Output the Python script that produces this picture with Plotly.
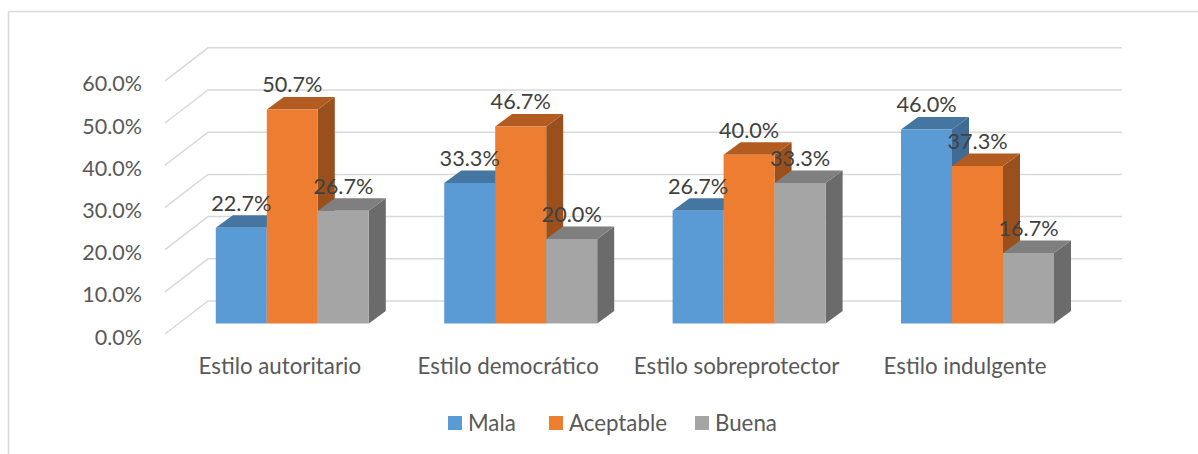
import plotly.graph_objects as go

categories = ["Estilo autoritario", "Estilo democrático", "Estilo sobreprotector", "Estilo indulgente"]
mala = [22.7, 33.3, 26.7, 46.0]
aceptable = [50.7, 46.7, 40.0, 37.3]
buena = [26.7, 20.0, 33.3, 16.7]
y_ticks = [0, 10, 20, 30, 40, 50, 60]

series = [
    ("Mala", mala, "#5B9BD5", "#4575A1", "#3F6B94"),
    ("Aceptable", aceptable, "#ED7D31", "#B35C22", "#9A501C"),
    ("Buena", buena, "#A5A5A5", "#7F7F7F", "#6B6B6B"),
]
legend_swatch_px = [448, 549, 695]

W, H = 1198, 454
L, R, T, B = 143, 1130, 40, 340
PX_PER_UNIT = 4.22
PX_PER_CAT = 228.4
BASE_PX = 323.5
FIRST_CENTER_PX = 292.3
BAR_PX = 51.0
FONT = "Lato, Carlito, sans-serif"

xr = [(L - FIRST_CENTER_PX) / PX_PER_CAT, (R - FIRST_CENTER_PX) / PX_PER_CAT]
yr = [(BASE_PX - B) / PX_PER_UNIT, (BASE_PX - T) / PX_PER_UNIT]

dx = 17 / PX_PER_CAT
dy = 12.5 / PX_PER_UNIT
bar_w = BAR_PX / PX_PER_CAT

front_dy = (BASE_PX - 334) / PX_PER_UNIT
back_dy = (BASE_PX - 301) / PX_PER_UNIT
tick_label_dy = (BASE_PX - 337) / PX_PER_UNIT
wall_x0 = (165 - FIRST_CENTER_PX) / PX_PER_CAT
wall_x1 = (208 - FIRST_CENTER_PX) / PX_PER_CAT
wall_x2 = (1122 - FIRST_CENTER_PX) / PX_PER_CAT
label_lift = 22.5 / PX_PER_UNIT
cat_label_shift = 12.5 / PX_PER_CAT


def px_x(p):
    return p / W


def px_y(p):
    return 1 - p / H


shapes = []
GRID = "#D9D9D9"
for v in y_ticks:
    path = f"M {wall_x0},{v + front_dy} L {wall_x1},{v + back_dy} L {wall_x2},{v + back_dy}"
    shapes.append(dict(type="path", path=path, xref="x", yref="y", layer="below",
                       line=dict(color=GRID, width=1.5)))

for i in range(len(categories)):
    for s, (name, vals, front, top, side) in enumerate(series):
        v = vals[i]
        x0 = i + (s - 1.5) * bar_w
        x1 = x0 + bar_w
        shapes.append(dict(type="path",
                           path=f"M {x1},0 L {x1 + dx},{dy} L {x1 + dx},{v + dy} L {x1},{v} Z",
                           xref="x", yref="y", layer="below", fillcolor=side, line=dict(width=0)))
        shapes.append(dict(type="path",
                           path=f"M {x0},{v} L {x0 + dx},{v + dy} L {x1 + dx},{v + dy} L {x1},{v} Z",
                           xref="x", yref="y", layer="below", fillcolor=top, line=dict(width=0)))

shapes.append(dict(type="line", xref="paper", yref="paper", x0=px_x(8.5), x1=px_x(8.5),
                   y0=px_y(11.5), y1=0, line=dict(color=GRID, width=1.5)))
shapes.append(dict(type="line", xref="paper", yref="paper", x0=px_x(8.5), x1=1,
                   y0=px_y(11.5), y1=px_y(11.5), line=dict(color=GRID, width=1.5)))

annotations = []
for (name, vals, front, top, side), sx in zip(series, legend_swatch_px):
    shapes.append(dict(type="rect", xref="paper", yref="paper",
                       x0=px_x(sx), x1=px_x(sx + 14), y0=px_y(416), y1=px_y(430),
                       fillcolor=front, line=dict(width=0)))
    annotations.append(dict(text=name, xref="paper", yref="paper", x=px_x(sx + 20), y=px_y(422.5),
                            xanchor="left", yanchor="middle", showarrow=False, xshift=-2,
                            font=dict(family=FONT, size=22.3, color="#595959")))

fig = go.Figure()
xs = list(range(len(categories)))
for name, vals, front, top, side in series:
    fig.add_trace(go.Bar(name=name, x=xs, y=vals, marker=dict(color=front, line=dict(width=0))))

for s, (name, vals, front, top, side) in enumerate(series):
    fig.add_trace(go.Scatter(
        x=[i + (s - 1) * bar_w for i in xs],
        y=[v + label_lift for v in vals],
        text=[f"{v:.1f}%" for v in vals],
        mode="text", textposition="middle center",
        textfont=dict(family=FONT, size=21.7, color="#404040"),
        showlegend=False, hoverinfo="skip",
    ))

fig.update_layout(
    width=W, height=H, autosize=False,
    margin=dict(l=0, r=0, t=0, b=0),
    paper_bgcolor="white", plot_bgcolor="white",
    barmode="group", bargap=1 - 3 * bar_w, bargroupgap=0,
    shapes=shapes, annotations=annotations, showlegend=False,
    font=dict(family=FONT, size=21.5, color="#595959"),
    xaxis=dict(domain=[L / W, R / W], range=xr, tickmode="array", automargin=False,
               tickvals=[i - cat_label_shift for i in xs], ticktext=categories,
               showgrid=False, zeroline=False, showline=False, ticks="",
               ticklabelstandoff=11, tickfont=dict(size=22.3)),
    yaxis=dict(domain=[1 - B / H, 1 - T / H], range=yr, tickmode="array", automargin=False,
               tickvals=[v + tick_label_dy for v in y_ticks],
               ticktext=[f"{v:.1f}%" for v in y_ticks], showgrid=False, zeroline=False,
               showline=False, ticks="", tickfont=dict(size=21.5)),
)

fig.write_html("out.html", config=dict(displayModeBar=False),
               post_script="document.body.style.margin='0';document.documentElement.style.overflow='hidden';")
